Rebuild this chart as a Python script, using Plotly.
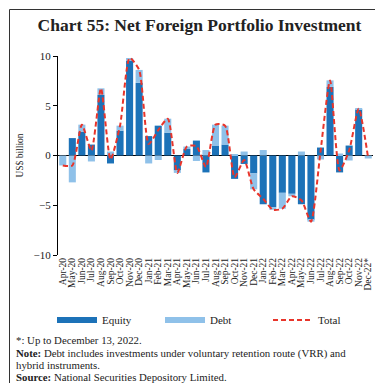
import plotly.graph_objects as go

months = ["Apr-20", "May-20", "Jun-20", "Jul-20", "Aug-20", "Sep-20", "Oct-20", "Nov-20", "Dec-20",
          "Jan-21", "Feb-21", "Mar-21", "Apr-21", "May-21", "Jun-21", "Jul-21", "Aug-21", "Sep-21",
          "Oct-21", "Nov-21", "Dec-21", "Jan-22", "Feb-22", "Mar-22", "Apr-22", "May-22", "Jun-22",
          "Jul-22", "Aug-22", "Sep-22", "Oct-22", "Nov-22", "Dec-22*"]
equity = [0.0, 1.75, 2.4, 1.1, 6.1, -0.8, 2.5, 9.5, 7.3, 1.95, 3.0, 2.3, -1.5, 0.65, 1.5, -1.7, 1.0,
          1.1, -2.35, -0.85, -1.8, -4.9, -5.2, -3.75, -3.85, -4.9, -6.45, 0.8, 6.9, -1.7, 1.0, 4.65, 0.0]
debt = [-1.0, -2.7, 0.7, -0.6, 0.65, 0.4, 0.5, 0.3, 1.3, -0.8, -0.45, 1.4, -0.25, 0.25, -0.55, 0.55,
        2.1, 1.9, 0.15, 0.4, -1.6, 0.55, -0.25, -1.6, -0.25, 0.4, -0.2, -0.4, 0.65, 0.2, -0.5, 0.05, -0.3]
total = [-1.0, -1.0, 3.1, 0.5, 6.75, -0.4, 3.0, 9.8, 8.6, 1.15, 2.55, 3.7, -1.75, 0.9, 0.95, -1.15,
         3.1, 3.0, -2.2, -0.45, -3.4, -4.35, -5.45, -5.35, -4.1, -4.5, -6.65, 0.4, 7.55, -1.5, 0.5, 4.7, -0.3]

EQ_COL = "#1c72b8"
DEBT_COL = "#8fc1e9"
TOT_COL = "#e8352b"
FONT = "Liberation Serif"

W, H = 383, 383
L, R, T, B = 50, 18, 48, 136
PW, PH = W - L - R, H - T - B


def px(x):
    return (x - L) / PW


def py(y):
    return (H - B - y) / PH


fig = go.Figure()
fig.add_trace(go.Bar(x=months, y=equity, name="Equity", marker_color=EQ_COL, marker_line_width=0,
                     showlegend=False, legendgroup="eq"))
fig.add_trace(go.Bar(x=months, y=debt, name="Debt", marker_color=DEBT_COL, marker_line_width=0,
                     showlegend=False, legendgroup="debt"))
fig.add_trace(go.Scatter(x=months, y=total, name="Total", mode="lines",
                         line=dict(color=TOT_COL, width=2, dash="5px,3px", shape="spline", smoothing=0.6),
                         showlegend=False, legendgroup="tot"))
# legend entries
fig.add_trace(go.Scatter(x=[None], y=[None], mode="lines", name="Equity", legendgroup="eq",
                         line=dict(color=EQ_COL, width=6)))
fig.add_trace(go.Scatter(x=[None], y=[None], mode="lines", name="Debt", legendgroup="debt",
                         line=dict(color=DEBT_COL, width=6)))
fig.add_trace(go.Scatter(x=[None], y=[None], mode="lines", name="Total", legendgroup="tot",
                         line=dict(color=TOT_COL, width=2, dash="5px,3px")))

fig.update_layout(
    width=W, height=H,
    margin=dict(l=L, r=R, t=T, b=B),
    barmode="relative", bargap=0.26,
    plot_bgcolor="white", paper_bgcolor="white",
    font=dict(family=FONT, color="#222", size=10),
    title=dict(text="<b>Chart 55: Net Foreign Portfolio Investment</b>", x=0.5, xanchor="center",
               y=1 - 17 / H, yanchor="middle", font=dict(family=FONT, size=17.5, color="#222")),
    xaxis=dict(type="category", tickmode="array", tickvals=months, ticktext=months, tickangle=-90,
               tickfont=dict(size=9.5, family=FONT), showline=False,
               ticks="", showgrid=False, zeroline=False),
    yaxis=dict(range=[-10, 10], tickvals=[-10, -5, 0, 5, 10], showline=True, linecolor="black",
               linewidth=1, ticks="outside", ticklen=4, tickcolor="black", showgrid=False,
               zeroline=True, zerolinecolor="black", zerolinewidth=1.2,
               title=dict(text="US$ billion", font=dict(size=9.5, family=FONT), standoff=8),
               tickfont=dict(size=11, family=FONT)),
    legend=dict(orientation="h", x=px(44), xanchor="left", y=py(312), yanchor="middle",
                font=dict(size=11, family=FONT), itemwidth=40, entrywidth=53, entrywidthmode="pixels",
                bgcolor="rgba(0,0,0,0)", tracegroupgap=0),
)

notes = [
    (332, "*: Up to December 13, 2022."),
    (345, "<b>Note:</b> Debt includes investments under voluntary retention route (VRR) and"),
    (357, "hybrid instruments."),
    (369, "<b>Source:</b> National Securities Depository Limited."),
]
for yy, txt in notes:
    fig.add_annotation(text=txt, xref="paper", yref="paper", x=px(6), y=py(yy), xanchor="left",
                       yanchor="middle", showarrow=False, font=dict(size=10.8, family=FONT, color="#222"))

fig.add_shape(type="rect", xref="paper", yref="paper", x0=px(1.5), x1=px(380), y0=py(380), y1=py(1.5),
              line=dict(color="#333", width=1), fillcolor="rgba(0,0,0,0)", layer="below")

fig.write_html("out.html")
